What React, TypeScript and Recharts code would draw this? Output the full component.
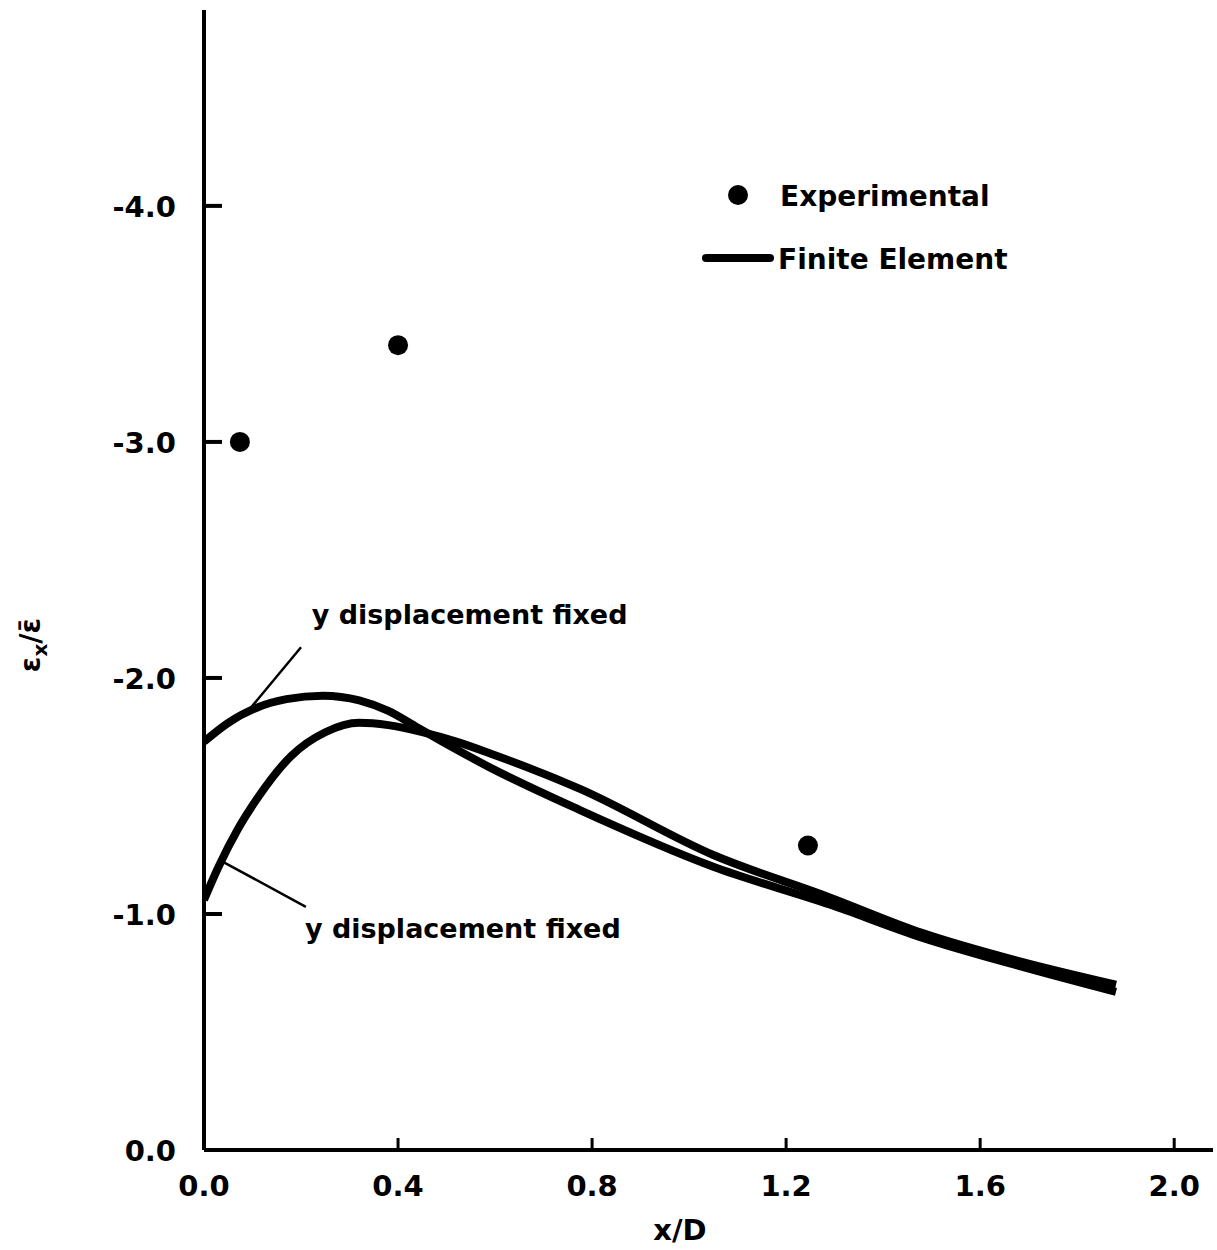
import React from 'react';
import {
  ComposedChart, Line, Scatter, XAxis, YAxis, Legend,
  ReferenceLine, ReferenceDot
} from 'recharts';

// x/D and strain ratio values
const xTicks = [0, 0.4, 0.8, 1.2, 1.6, 2.0];
const yTicks = [-4, -3, -2, -1, 0];

const expX = [0.074, 0.4, 1.245];
const expY = [-3.0, -3.41, -1.29];

const fixedAX = [0, 0.05, 0.11, 0.17, 0.245, 0.32, 0.38, 0.44, 0.5, 0.59, 0.775, 1.05, 1.29, 1.48, 1.68, 1.88];
const fixedAY = [-1.73, -1.81, -1.875, -1.91, -1.925, -1.905, -1.86, -1.79, -1.72, -1.62, -1.44, -1.2, -1.04, -0.9, -0.78, -0.67];

const fixedBX = [0, 0.03, 0.07, 0.11, 0.18, 0.25, 0.32, 0.38, 0.45, 0.52, 0.59, 0.775, 1.05, 1.29, 1.48, 1.68, 1.88];
const fixedBY = [-1.06, -1.2, -1.36, -1.49, -1.67, -1.77, -1.81, -1.8, -1.77, -1.73, -1.68, -1.53, -1.25, -1.07, -0.92, -0.8, -0.7];

const noteText = 'y displacement fixed';
const notes = [
  { x: 0.222, y: -2.27, from: { x: 0.2, y: -2.13 }, to: { x: 0.095, y: -1.87 } },
  { x: 0.208, y: -0.94, from: { x: 0.04, y: -1.22 }, to: { x: 0.21, y: -1.03 } },
];

const toRows = (xs: number[], ys: number[]) => xs.map((x, i) => ({ x, y: ys[i] }));
const expData = toRows(expX, expY);
const fixedA = toRows(fixedAX, fixedAY);
const fixedB = toRows(fixedBX, fixedBY);

const FONT = '"DejaVu Sans", sans-serif';

const YTick = (props: any) => {
  const { x, y, payload } = props;
  const ax = x + 28;
  return (
    <g>
      {payload.value !== 0 && (
        <line x1={ax} x2={ax + 18} y1={y} y2={y} stroke="#000" strokeWidth={4} />
      )}
      <text x={x} y={y} dy={11} textAnchor="end" fontFamily={FONT} fontWeight="bold" fontSize={29} fill="#000">
        {Number(payload.value).toFixed(1)}
      </text>
    </g>
  );
};

const XTick = (props: any) => {
  const { x, y, payload } = props;
  const ay = y - 12;
  return (
    <g>
      {payload.value !== 0 && (
        <line x1={x} x2={x} y1={ay} y2={ay - 12} stroke="#000" strokeWidth={3} />
      )}
      <text x={x} y={y} dy={34} textAnchor="middle" fontFamily={FONT} fontWeight="bold" fontSize={29} fill="#000">
        {Number(payload.value).toFixed(1)}
      </text>
    </g>
  );
};

const LegendBox = () => (
  <svg width={320} height={110}>
    <circle cx={38} cy={25} r={10} fill="#000" />
    <text x={80} y={36} fontFamily={FONT} fontWeight="bold" fontSize={28} fill="#000">Experimental</text>
    <line x1={6} x2={70} y1={88} y2={88} stroke="#000" strokeWidth={8} strokeLinecap="round" />
    <text x={78} y={99} fontFamily={FONT} fontWeight="bold" fontSize={28} fill="#000">Finite Element</text>
  </svg>
);

export default function App() {
  return (
    <div style={{ position: 'absolute', left: 0, top: 0, background: '#fff' }}>
      <ComposedChart width={1217} height={1250} margin={{ top: 10, right: 4, left: 0, bottom: 0 }}>
        <XAxis
          type="number"
          dataKey="x"
          domain={[0, 2.08]}
          ticks={xTicks}
          height={100}
          tickSize={0}
          tickMargin={12}
          tickLine={false}
          tick={<XTick />}
          axisLine={{ stroke: '#000', strokeWidth: 4 }}
          allowDataOverflow
          label={{
            content: () => (
              <text x={680} y={1240} textAnchor="middle" fontFamily={FONT} fontWeight="bold" fontSize={29} fill="#000">x/D</text>
            ),
          }}
        />
        <YAxis
          type="number"
          dataKey="y"
          reversed
          domain={[-4.83, 0]}
          ticks={yTicks}
          width={204}
          tickSize={0}
          tickMargin={28}
          tickLine={false}
          tick={<YTick />}
          axisLine={{ stroke: '#000', strokeWidth: 4 }}
          allowDataOverflow
          label={{
            content: () => (
              <text transform="translate(40,645) rotate(-90)" textAnchor="middle" fontFamily={FONT} fontWeight="bold" fontSize={28} fill="#000">
                ε<tspan dy={7} fontSize={20}>x</tspan><tspan dy={-7}>/ε̄</tspan>
              </text>
            ),
          }}
        />
        <Legend
          content={<LegendBox />}
          layout="horizontal"
          verticalAlign="middle"
          align="center"
          wrapperStyle={{ position: 'absolute', left: 700, top: 170, width: 320, height: 110 }}
        />
        <Line data={fixedA} dataKey="y" type="monotone" stroke="#000" strokeWidth={8} dot={false} isAnimationActive={false} legendType="none" />
        <Line data={fixedB} dataKey="y" type="monotone" stroke="#000" strokeWidth={8} dot={false} isAnimationActive={false} legendType="none" />
        <Scatter data={expData} dataKey="y" fill="#000" isAnimationActive={false} legendType="none"
          shape={(p: any) => <circle cx={p.cx} cy={p.cy} r={10} fill="#000" />} />
        {notes.map((n, i) => (
          <ReferenceLine key={'l' + i} segment={[n.from, n.to]} stroke="#000" strokeWidth={2.5} />
        ))}
        {notes.map((n, i) => (
          <ReferenceDot key={'t' + i} x={n.x} y={n.y} r={0}
            shape={(p: any) => (
              <text x={p.cx} y={p.cy} dy={10} fontFamily={FONT} fontWeight="bold" fontSize={27} fill="#000">{noteText}</text>
            )} />
        ))}
      </ComposedChart>
    </div>
  );
}
